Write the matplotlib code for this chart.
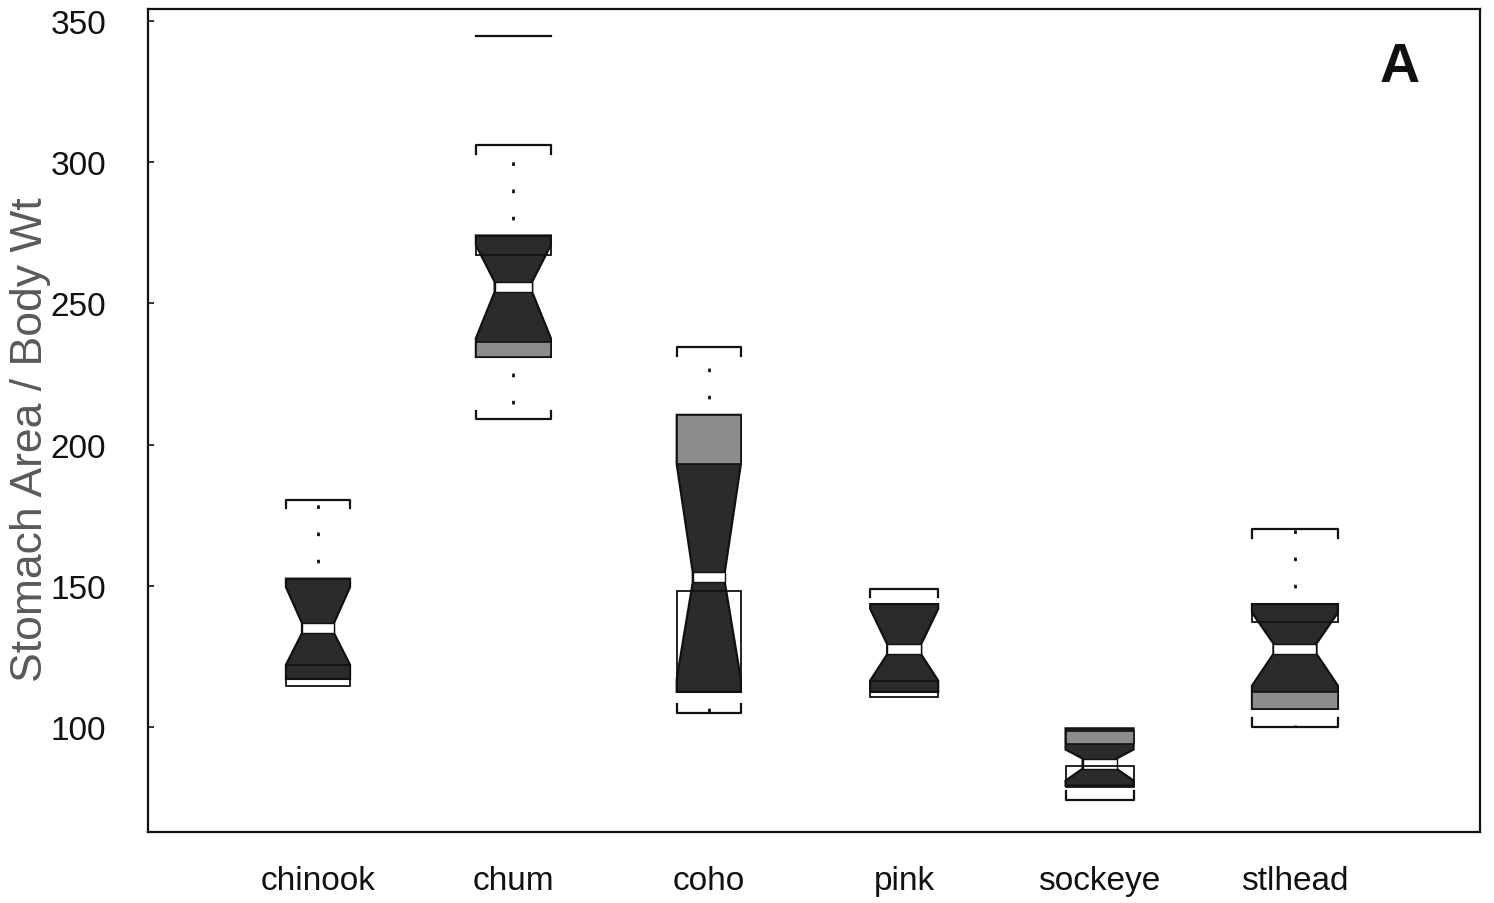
import matplotlib
matplotlib.use("Agg")
import matplotlib.pyplot as plt
from matplotlib.patches import Polygon, Rectangle

plt.rcParams["font.family"] = ["Liberation Sans", "DejaVu Sans"]

INK = "#111111"
DARK_FILL = "#2b2b2b"
LIGHT_FILL = "#8c8c8c"
PAPER = "#ffffff"

species = ["chinook", "chum", "coho", "pink", "sockeye", "stlhead"]
half_width = [0.164, 0.192, 0.164, 0.174, 0.174, 0.22]

# notched-box shape (y units)
shape_top = [152.5, 274.0, 210.5, 143.5, 99.5, 143.5]
taper_hi = [149.5, 270.6, 193.0, 141.8, 92.0, 140.5]
medians = [135.0, 255.8, 153.0, 127.5, 87.0, 127.7]
taper_lo = [122.0, 237.6, 117.0, 116.4, 81.0, 114.6]
shape_bottom = [117.0, 231.0, 112.4, 112.4, 79.2, 106.4]
# outlined rectangle (hinges)
rect_lo = [114.5, 267.0, 112.4, 110.6, 78.6, 137.0]
rect_hi = [122.0, 274.0, 148.3, 116.4, 86.0, 143.5]
# lighter shaded band at one end of the box
light_lo = [None, 231.0, 193.0, None, 94.0, 106.4]
light_hi = [None, 236.4, 210.5, None, 98.6, 112.3]
# whisker caps
cap_hi = [180.5, 306.0, 234.5, 149.0, None, 170.0]
cap_lo = [None, 209.0, 105.0, None, 74.3, 100.0]
outlier_lines = {"chum": [344.7]}

fig = plt.figure(figsize=(14.94, 9.04), dpi=100)
fig.patch.set_facecolor(PAPER)
ax = fig.add_axes([148 / 1494, 1 - 833 / 904, (1480 - 148) / 1494, (833 - 10) / 904])
ax.set_facecolor(PAPER)

band = 1.8
tick_len = 3.0
for i, name in enumerate(species):
    c = i + 1
    w = half_width[i]
    ww = 0.5 * w
    # hinge rectangle interior
    ax.add_patch(Rectangle((c - w, rect_lo[i]), 2 * w, rect_hi[i] - rect_lo[i],
                           facecolor=PAPER, edgecolor="none", zorder=1))
    m = medians[i]
    pts = [(c - w, shape_top[i]), (c + w, shape_top[i]), (c + w, taper_hi[i]),
           (c + ww, m + band), (c + ww, m - band), (c + w, taper_lo[i]),
           (c + w, shape_bottom[i]), (c - w, shape_bottom[i]), (c - w, taper_lo[i]),
           (c - ww, m - band), (c - ww, m + band), (c - w, taper_hi[i])]
    ax.add_patch(Polygon(pts, closed=True, facecolor=DARK_FILL, edgecolor=INK,
                         linewidth=1.6, joinstyle="miter", zorder=2))
    if light_lo[i] is not None:
        ax.add_patch(Rectangle((c - w, light_lo[i]), 2 * w, light_hi[i] - light_lo[i],
                               facecolor=LIGHT_FILL, edgecolor=INK, linewidth=1.2, zorder=3))
    ax.add_patch(Rectangle((c - ww, m - band), 2 * ww, 2 * band,
                           facecolor=PAPER, edgecolor=INK, linewidth=1.0, zorder=4))
    ax.add_patch(Rectangle((c - w, rect_lo[i]), 2 * w, rect_hi[i] - rect_lo[i],
                           facecolor="none", edgecolor=INK, linewidth=1.3, zorder=5))

    box_top = max(shape_top[i], rect_hi[i])
    box_bot = min(shape_bottom[i], rect_lo[i])
    if cap_hi[i] is not None:
        ax.plot([c, c], [box_top, cap_hi[i]], color=INK, linewidth=2.0,
                linestyle=(4, (1.3, 8.5)), zorder=1)
        ax.plot([c - w, c - w, c + w, c + w],
                [cap_hi[i] - tick_len, cap_hi[i], cap_hi[i], cap_hi[i] - tick_len],
                color=INK, linewidth=1.6, zorder=5)
    if cap_lo[i] is not None:
        ax.plot([c, c], [box_bot, cap_lo[i]], color=INK, linewidth=2.0,
                linestyle=(4, (1.3, 8.5)), zorder=1)
        ax.plot([c - w, c - w, c + w, c + w],
                [cap_lo[i] + tick_len, cap_lo[i], cap_lo[i], cap_lo[i] + tick_len],
                color=INK, linewidth=1.6, zorder=5)
    for v in outlier_lines.get(name, []):
        ax.plot([c - w, c + w], [v, v], color=INK, linewidth=1.6, zorder=5)

ax.set_xlim(0.13, 6.947)
ax.set_ylim(62.8, 354.2)
ax.set_xticks(range(1, len(species) + 1))
ax.set_xticklabels(species)
ax.set_yticks([100, 150, 200, 250, 300, 350])
ax.tick_params(axis="x", length=0, pad=24, labelsize=24, colors=INK)
ax.tick_params(axis="y", direction="in", length=4, width=1.2, pad=30, labelsize=24, colors=INK)
for sp in ax.spines.values():
    sp.set_linewidth(1.6)
    sp.set_color(INK)

ax.text(0.94, 0.93, "A", transform=ax.transAxes, fontsize=40, fontweight="bold",
        color=INK, ha="center", va="center")

fig.text(42 / 1494, 1 - 440 / 904, "Stomach Area / Body Wt", rotation=90,
         rotation_mode="anchor", ha="center", va="baseline", fontsize=32,
         color="#5a5a5a")

fig.savefig("out.png", dpi=100, facecolor=PAPER)
